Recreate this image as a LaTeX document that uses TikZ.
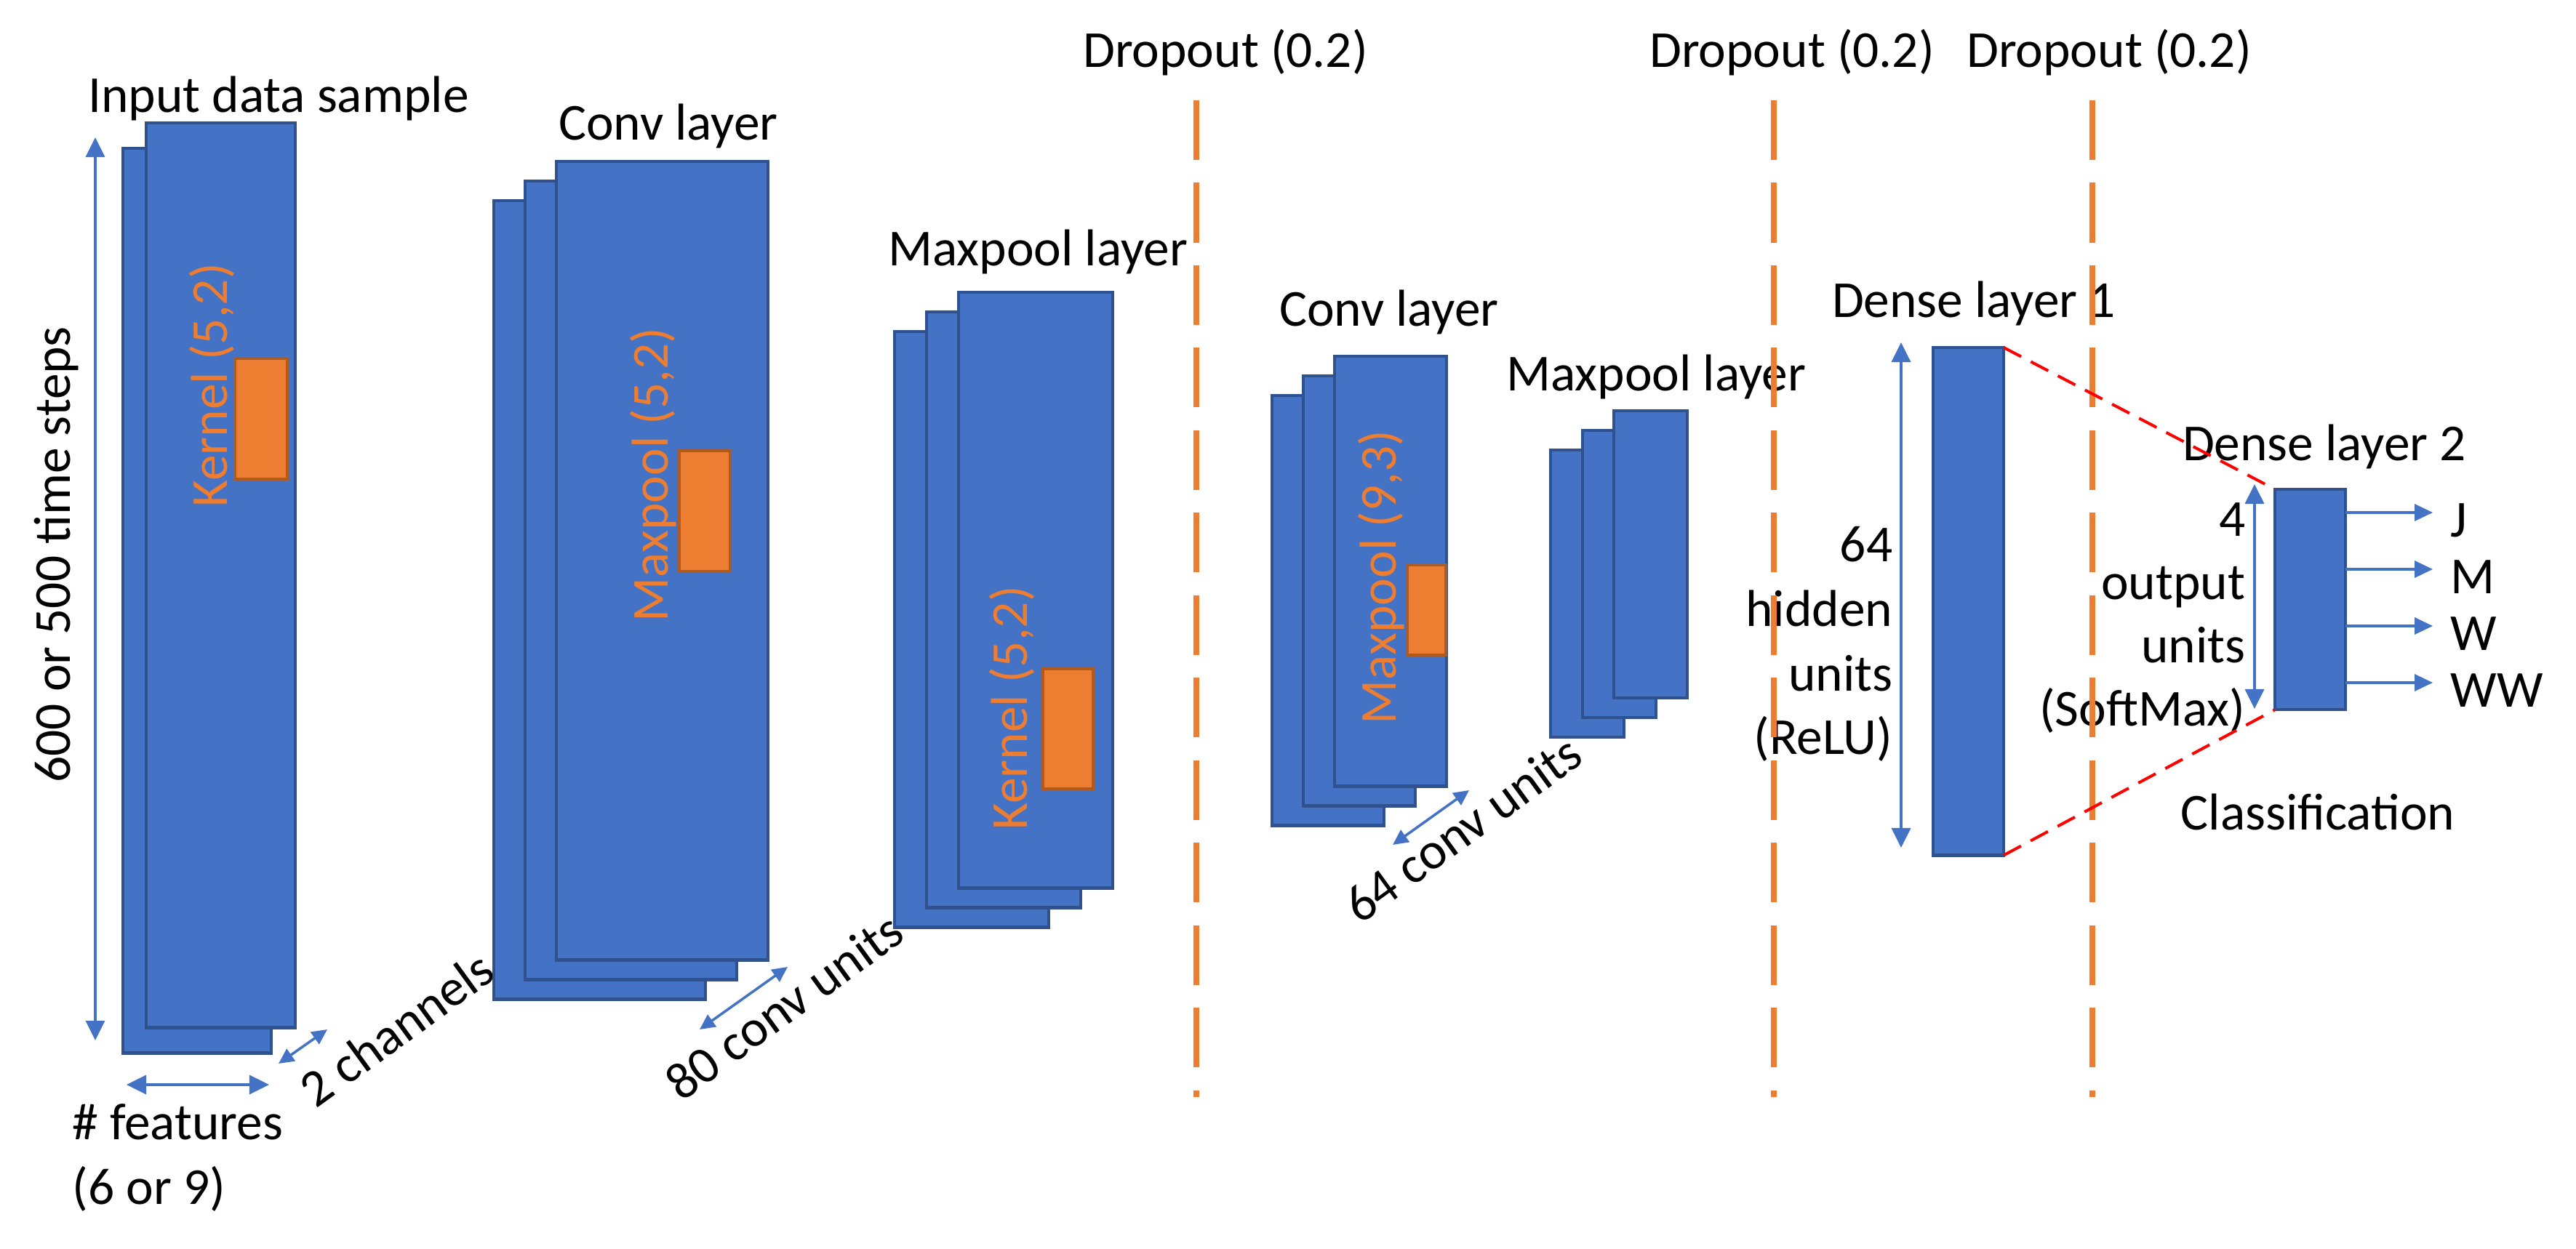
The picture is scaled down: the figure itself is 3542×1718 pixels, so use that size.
\documentclass[tikz,border=0pt]{standalone}
\usepackage{fontspec}
\setmainfont{Carlito}
\usetikzlibrary{arrows.meta}
\definecolor{bluefill}{HTML}{4472C4}
\definecolor{blueedge}{HTML}{2F528F}
\definecolor{orgfill}{HTML}{ED7D31}
\definecolor{orgedge}{HTML}{AE5A21}
\definecolor{reddash}{HTML}{FF0000}
\begin{document}
\begin{tikzpicture}[x=0.01cm, y=-0.01cm,
  font=\fontsize{20.3}{24.4}\selectfont,
  layerbox/.style={draw=blueedge, fill=bluefill, line width=0.045cm, anchor=north west, inner sep=0, outer sep=0},
  kernelbox/.style={draw=orgedge, fill=orgfill, line width=0.04cm, anchor=north west, inner sep=0, outer sep=0},
  lbl/.style={inner sep=0, anchor=base},
  klbl/.style={inner sep=0, anchor=base, rotate=90, text=orgfill},
  dimarrow/.style={draw=bluefill, line width=0.035cm, {Triangle[length=0.27cm,width=0.26cm]}-{Triangle[length=0.27cm,width=0.26cm]}},
  smallarrow/.style={draw=bluefill, line width=0.035cm, {Triangle[length=0.21cm,width=0.2cm]}-{Triangle[length=0.21cm,width=0.2cm]}},
  outarrow/.style={draw=bluefill, line width=0.035cm, -{Triangle[length=0.25cm,width=0.23cm]}},
  dropline/.style={draw=orgfill, line width=0.085cm, dash pattern=on 0.82cm off 0.314cm},
  denseline/.style={draw=reddash, line width=0.04cm, dash pattern=on 0.27cm off 0.15cm}
]
\fill[white] (0,0) rectangle (3542,1718);
\useasboundingbox (0,0) rectangle (3542,1718);

% ---------- Input data sample ----------
\node[layerbox, minimum width=2.04cm, minimum height=12.44cm] (in2) at (169,204) {};
\node[layerbox, minimum width=2.05cm, minimum height=12.44cm] (in1) at (201,169) {};
\node[kernelbox, minimum width=0.72cm, minimum height=1.66cm] (k1) at (323,493) {};
\node[klbl] (k1t) at (312,530) {Kernel (5,2)};
\node[lbl] (tin) at (383,154) {Input data sample};

\coordinate (va1) at (131,189);
\coordinate (va2) at (131,1431);
\draw[dimarrow] (va1) -- (va2);
\node[lbl, rotate=90] (tsteps) at (96,763) {600 or 500 time steps};

\coordinate (ha1) at (174,1492);
\coordinate (ha2) at (370,1492);
\draw[dimarrow] (ha1) -- (ha2);
\node[lbl, anchor=base west] (tfeat1) at (99,1567) {\# features};
\node[lbl, anchor=base west] (tfeat2) at (99,1656) {(6 or 9)};

\coordinate (ch1) at (383,1463);
\coordinate (ch2) at (450,1416);
\draw[smallarrow] (ch1) -- (ch2);
\node[inner sep=0, rotate=36] (tch) at (545,1415) {2 channels};

% ---------- Conv layer 1 ----------
\node[layerbox, minimum width=2.91cm, minimum height=10.98cm] (c1c) at (679,276) {};
\node[layerbox, minimum width=2.91cm, minimum height=10.98cm] (c1b) at (722,249) {};
\node[layerbox, minimum width=2.91cm, minimum height=10.98cm] (c1a) at (765,222) {};
\node[kernelbox, minimum width=0.70cm, minimum height=1.66cm] (k2) at (934,620) {};
\node[klbl] (k2t) at (918,653) {Maxpool (5,2)};
\node[lbl] (tc1) at (919,192) {Conv layer};

\coordinate (cu1) at (962,1416);
\coordinate (cu2) at (1083,1330);
\draw[smallarrow] (cu1) -- (cu2);
\node[inner sep=0, rotate=36] (tcu1) at (1078,1384) {80 conv units};

% ---------- Maxpool layer 1 ----------
\node[layerbox, minimum width=2.12cm, minimum height=8.19cm] (m1c) at (1230,456) {};
\node[layerbox, minimum width=2.12cm, minimum height=8.19cm] (m1b) at (1274,429) {};
\node[layerbox, minimum width=2.12cm, minimum height=8.19cm] (m1a) at (1318,402) {};
\node[kernelbox, minimum width=0.69cm, minimum height=1.65cm] (k3) at (1434,920) {};
\node[klbl] (k3t) at (1412,974) {Kernel (5,2)};
\node[lbl] (tm1) at (1427,365) {Maxpool layer};

% ---------- Conv layer 2 ----------
\node[layerbox, minimum width=1.54cm, minimum height=5.91cm] (c2c) at (1749,544) {};
\node[layerbox, minimum width=1.54cm, minimum height=5.91cm] (c2b) at (1792,517) {};
\node[layerbox, minimum width=1.54cm, minimum height=5.91cm] (c2a) at (1835,490) {};
\node[kernelbox, minimum width=0.53cm, minimum height=1.24cm] (k4) at (1935,777) {};
\node[klbl] (k4t) at (1919,794) {Maxpool (9,3)};
\node[lbl] (tc2) at (1910,448) {Conv layer};

\coordinate (cv1) at (1915,1162);
\coordinate (cv2) at (2020,1087);
\draw[smallarrow] (cv1) -- (cv2);
\node[inner sep=0, rotate=36] (tcu2) at (2011,1140) {64 conv units};

% ---------- Maxpool layer 2 ----------
\node[layerbox, minimum width=1.01cm, minimum height=3.95cm] (m2c) at (2132,619) {};
\node[layerbox, minimum width=1.01cm, minimum height=3.95cm] (m2b) at (2176,592) {};
\node[layerbox, minimum width=1.01cm, minimum height=3.95cm] (m2a) at (2219,565) {};
\node[lbl] (tm2) at (2277,537) {Maxpool layer};

% ---------- Dense layer 1 ----------
\node[layerbox, minimum width=0.97cm, minimum height=6.98cm] (d1) at (2658,478) {};
\node[lbl] (td1) at (2714,436) {Dense layer 1};
\coordinate (da1) at (2614,471);
\coordinate (da2) at (2614,1166);
\draw[dimarrow] (da1) -- (da2);
\node[lbl, anchor=base east] (h1) at (2603,772) {64};
\node[lbl, anchor=base east] (h2) at (2603,861) {hidden};
\node[lbl, anchor=base east] (h3) at (2603,950) {units};
\node[lbl, anchor=base east] (h4) at (2603,1037) {(ReLU)};

% ---------- Dense layer 2 ----------
\node[layerbox, minimum width=0.97cm, minimum height=3.03cm] (d2) at (3128,673) {};
\node[lbl] (td2) at (3196,633) {Dense layer 2};
\coordinate (db1) at (3100,666);
\coordinate (db2) at (3100,975);
\draw[dimarrow] (db1) -- (db2);
\node[lbl, anchor=base east] (o1) at (3088,737) {4};
\node[lbl, anchor=base east] (o2) at (3088,824) {output};
\node[lbl, anchor=base east] (o3) at (3088,911) {units};
\node[lbl, anchor=base east] (o4) at (3088,998) {(SoftMax)};

\coordinate (tJ) at (3345,705);
\coordinate (tM) at (3345,783);
\coordinate (tW) at (3345,861);
\coordinate (tWW) at (3345,939);
\draw[outarrow] (d2.east |- tJ) -- (tJ);
\draw[outarrow] (d2.east |- tM) -- (tM);
\draw[outarrow] (d2.east |- tW) -- (tW);
\draw[outarrow] (d2.east |- tWW) -- (tWW);
\node[lbl, anchor=base west] (lJ) at (3369,738) {J};
\node[lbl, anchor=base west] (lM) at (3369,816) {M};
\node[lbl, anchor=base west] (lW) at (3369,894) {W};
\node[lbl, anchor=base west] (lWW) at (3369,972) {WW};
\node[lbl] (tcls) at (3187,1141) {Classification};

% ---------- Dropout lines ----------
\node[lbl] (dr1) at (1685,92) {Dropout (0.2)};
\node[lbl] (dr2) at (2464,92) {Dropout (0.2)};
\node[lbl] (dr3) at (2900,92) {Dropout (0.2)};
\coordinate (dl1a) at (1645,138); \coordinate (dl1b) at (1645,1509);
\coordinate (dl2a) at (2439,138); \coordinate (dl2b) at (2439,1509);
\coordinate (dl3a) at (2877,138); \coordinate (dl3b) at (2877,1509);
\draw[dropline] (dl1a) -- (dl1b);
\draw[dropline] (dl2a) -- (dl2b);
\draw[dropline] (dl3a) -- (dl3b);

% ---------- Dense connections ----------
\draw[denseline] (d1.north east) -- (d2.north west);
\draw[denseline] (d1.south east) -- (d2.south west);
\end{tikzpicture}
\end{document}
